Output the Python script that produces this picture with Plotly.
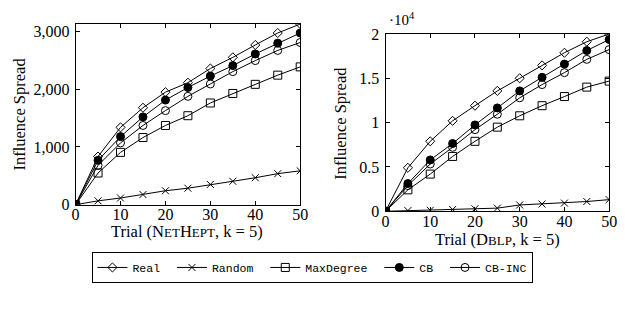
import plotly.graph_objects as go

trials = [0, 5, 10, 15, 20, 25, 30, 35, 40, 45, 50]

# NetHept
nh_real = [0, 833, 1338, 1678, 1947, 2111, 2357, 2550, 2764, 2972, 3126]
nh_random = [0, 66, 115, 175, 241, 285, 350, 405, 466, 537, 586]
nh_maxdeg = [0, 548, 905, 1162, 1371, 1540, 1760, 1925, 2083, 2242, 2385]
nh_cb = [0, 767, 1178, 1519, 1810, 2028, 2226, 2407, 2609, 2796, 2972]
nh_cbinc = [0, 680, 1069, 1371, 1628, 1875, 2089, 2303, 2494, 2670, 2807]

# DBLP
db_real = [0, 4907, 7893, 10205, 11911, 13582, 15005, 16462, 17884, 19129, 20000]
db_random = [0, 80, 110, 200, 280, 356, 711, 818, 924, 1102, 1316]
db_maxdeg = [0, 2418, 4196, 6187, 7893, 9493, 10773, 11911, 12942, 14009, 14684]
db_cb = [0, 3129, 5796, 7645, 9742, 11662, 13582, 15112, 16604, 18133, 19378]
db_cbinc = [0, 2900, 5333, 7218, 9209, 10951, 12800, 14293, 15644, 17138, 18240]

names = ["Real", "Random", "MaxDegree", "CB", "CB-INC"]
symbols = ["diamond-open", "x-thin-open", "square-open", "circle", "circle-open"]
sizes = [7, 7, 8, 8, 8]

fig = go.Figure()

series_nh = [nh_real, nh_random, nh_maxdeg, nh_cb, nh_cbinc]
series_db = [db_real, db_random, db_maxdeg, db_cb, db_cbinc]

pad = "\u00a0"
for i, (nm, sym, sz) in enumerate(zip(names, symbols, sizes)):
    fig.add_trace(go.Scatter(
        x=trials, y=series_nh[i], name=nm + (pad if i < len(names) - 1 else ""),
        mode="lines+markers",
        line=dict(color="black", width=1),
        marker=dict(symbol=sym, size=sz, color="black",
                    line=dict(color="black", width=1)),
        xaxis="x", yaxis="y", showlegend=True, legendgroup=nm))
for i, (nm, sym, sz) in enumerate(zip(names, symbols, sizes)):
    fig.add_trace(go.Scatter(
        x=trials, y=series_db[i], name=nm, mode="lines+markers",
        line=dict(color="black", width=1),
        marker=dict(symbol=sym, size=sz, color="black",
                    line=dict(color="black", width=1)),
        xaxis="x2", yaxis="y2", showlegend=False, legendgroup=nm))

serif = "Liberation Serif"
axis_common = dict(
    showline=True, linecolor="black", linewidth=1, mirror="ticks",
    ticks="inside", ticklen=4, tickcolor="black", tickwidth=1,
    showgrid=False, zeroline=False,
    tickfont=dict(family=serif, size=16, color="black"),
)

fig.update_layout(
    width=625, height=312,
    margin=dict(l=0, r=0, t=0, b=0),
    paper_bgcolor="white", plot_bgcolor="white",
    xaxis=dict(domain=[73/625, 302/625], range=[0, 50], tickvals=[0, 10, 20, 30, 40, 50],
               anchor="y", ticklabelstandoff=-5, **axis_common),
    yaxis=dict(domain=[1-208/312, 1-17/312], range=[0, max(nh_real)],
               tickvals=[0, 1000, 2000, 3000], ticktext=["0", "1,000", "2,000", "3,000"],
               anchor="x", ticklabelstandoff=2, **axis_common),
    xaxis2=dict(domain=[389/625, 617/625], range=[0, 50], tickvals=[0, 10, 20, 30, 40, 50],
                anchor="y2", ticklabelstandoff=-4, **axis_common),
    yaxis2=dict(domain=[1-215/312, 1-27.5/312], range=[0, max(db_real)],
                tickvals=[0, 5000, 10000, 15000, 20000], ticktext=["0", "0.5", "1", "1.5", "2"],
                anchor="x2", ticklabelstandoff=2, **axis_common),
    legend=dict(orientation="h", x=315/625, xanchor="center", y=1-258/312, yanchor="top",
                bordercolor="black", borderwidth=1,
                font=dict(family="Liberation Mono", size=11.5, color="black"),
                itemclick=False, tracegroupgap=0),
    font=dict(family=serif, color="black"),
)

sc = "font-size:13px"
fig.add_annotation(text=f"Trial (N<span style='{sc}'>ET</span>H<span style='{sc}'>EPT</span>, k = 5)",
                   xref="paper", yref="paper", x=187/625, y=1-236/312, showarrow=False,
                   font=dict(family=serif, size=16.5, color="black"), xanchor="center", yanchor="middle")
fig.add_annotation(text=f"Trial (D<span style='{sc}'>BLP</span>, k = 5)",
                   xref="paper", yref="paper", x=503/625, y=1-245/312, showarrow=False,
                   font=dict(family=serif, size=16.5, color="black"), xanchor="center", yanchor="middle")
fig.add_annotation(text="Influence Spread", textangle=-90,
                   xref="paper", yref="paper", x=16/625, y=1-112/312, showarrow=False,
                   font=dict(family=serif, size=16.5, color="black"), xanchor="center", yanchor="middle")
fig.add_annotation(text="Influence Spread", textangle=-90,
                   xref="paper", yref="paper", x=343/625, y=1-122/312, showarrow=False,
                   font=dict(family=serif, size=16.5, color="black"), xanchor="center", yanchor="middle")
fig.add_annotation(text="·10<sup>4</sup>",
                   xref="paper", yref="paper", x=391/625, y=1-12/312, showarrow=False,
                   font=dict(family=serif, size=15, color="black"), xanchor="left", yanchor="middle")

fig.write_html("out.html", config={"displayModeBar": False},
               post_script="document.body.style.margin='0';document.body.style.overflow='hidden';")
